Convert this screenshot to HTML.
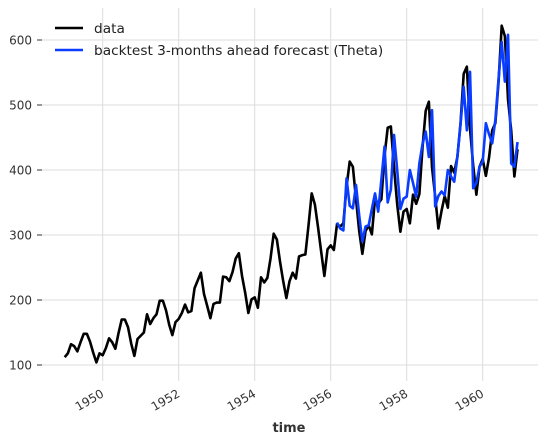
<!DOCTYPE html>
<html><head><meta charset="utf-8"><style>
body{margin:0;background:#fff;}
svg{display:block;font-family:"DejaVu Sans","Liberation Sans",sans-serif;}
</style></head><body>
<svg id="chart" width="547" height="444" viewBox="0 0 547 444"></svg>
<script>
const dataValues=[112,118,132,129,121,135,148,148,136,119,104,118,
115,126,141,135,125,149,170,170,158,133,114,140,
145,150,178,163,172,178,199,199,184,162,146,166,
171,180,193,181,183,218,230,242,209,191,172,194,
196,196,236,235,229,243,264,272,237,211,180,201,
204,188,235,227,234,264,302,293,259,229,203,229,
242,233,267,269,270,315,364,347,312,274,237,278,
284,277,317,313,318,374,413,405,355,306,271,306,
315,301,356,348,355,422,465,467,404,347,305,336,
340,318,362,348,363,435,491,505,404,359,310,337,
360,342,406,396,420,472,548,559,463,407,362,405,
417,391,419,461,472,535,622,606,508,461,390,432];
const dataStartYear=1949;
const forecastStart=1956+2/12;
const forecastValues=[319,310,307,387,345,341,377,330,290,313,
315,340,364,336,385,436,350,370,454,400,340,356,
359,400,380,359,410,440,459,420,492,344,360,367,
361,400,390,382,420,470,528,461,551,372,380,405,
413,472,455,441,477,540,597,536,608,410,405,443];
const yTicks=[100,200,300,400,500,600];
const xTicks=[1950,1952,1954,1956,1958,1960];

const NS="http://www.w3.org/2000/svg";
const svg=document.getElementById('chart');
function X(t){return 102.7+(t-1950)*38.0;}
function Y(v){return 365-(v-100)*0.65;}
function mk(tag,attrs,parent){const e=document.createElementNS(NS,tag);for(const k in attrs)e.setAttribute(k,attrs[k]);(parent||svg).appendChild(e);return e;}

const grid=mk('g',{});


yTicks.forEach(v=>{
  const l=mk('line',{x1:42,x2:538,y1:Y(v),y2:Y(v),stroke:'#dcdcdc','stroke-width':1},grid);
  
  
  const tk=mk('line',{x1:37,x2:42,y1:Y(v),y2:Y(v),stroke:'#333','stroke-width':1},grid);
  
  
  const t=mk('text',{x:32,y:Y(v)+4.5,'text-anchor':'end','font-size':12,fill:'#333'},grid);
  t.textContent=v;
  
  
});
xTicks.forEach(yr=>{
  const x=X(yr);
  const l=mk('line',{x1:x,x2:x,y1:8,y2:381,stroke:'#dcdcdc','stroke-width':1},grid);
  
  
  const t=mk('text',{x:x+2,y:396,'text-anchor':'end','font-size':12,fill:'#333',transform:`rotate(-30 ${x+2} 396)`},grid);
  t.textContent=yr;
  
  
});

function pathFor(vals,start){return vals.map((v,i)=>(i?'L':'M')+X(start+i/12).toFixed(2)+','+Y(v).toFixed(2)).join(' ');}
const p1=mk('path',{d:pathFor(dataValues,dataStartYear),fill:'none',stroke:'#000','stroke-width':2.6,'stroke-linejoin':'round'});


const p2=mk('path',{d:pathFor(forecastValues,forecastStart),fill:'none',stroke:'#0a3dff','stroke-width':2.6,'stroke-linejoin':'round'});



const xl=mk('text',{x:289,y:432,'text-anchor':'middle','font-size':13,'font-weight':'bold',fill:'#333'});
xl.textContent='time';



const lg=mk('g',{});


[['data','#000',28],['backtest 3-months ahead forecast (Theta)','#0a3dff',50]].forEach(([label,c,y])=>{
  const g=mk('g',{},lg);
  
  
  mk('line',{x1:55,x2:83,y1:y,y2:y,stroke:c,'stroke-width':2.6},g);
  const t=mk('text',{x:94,y:y+5,'font-size':13.7,fill:'#222'},g);
  t.textContent=label;
});
</script>
</body></html>
